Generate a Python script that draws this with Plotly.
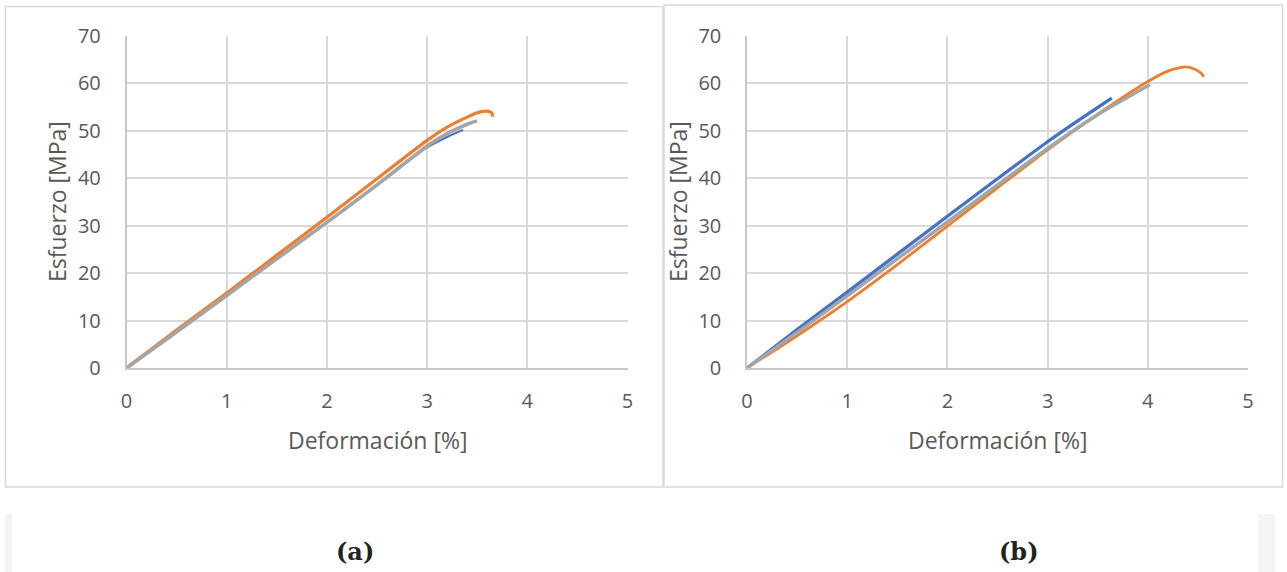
import plotly.graph_objects as go

W, H = 1287, 572

# ---- data (a) ----
a_blue_x = [0, 0.5, 1, 1.5, 2, 2.5, 3, 3.2, 3.36]
a_blue_y = [0, 7.7, 15.4, 23.1, 30.8, 38.5, 46.5, 48.7, 50.2]
a_orange_x = [0, 0.5, 1, 1.5, 2, 2.5, 3, 3.2, 3.4, 3.5, 3.56, 3.62, 3.65, 3.65]
a_orange_y = [0, 8.0, 15.8, 23.8, 31.8, 39.9, 48.0, 50.8, 52.9, 53.8, 54.1, 54.1, 53.6, 53.0]
a_gray_x = [0, 0.5, 1, 1.5, 2, 2.5, 3, 3.2, 3.4, 3.5]
a_gray_y = [0, 7.6, 15.3, 23.0, 30.7, 38.6, 46.8, 49.4, 51.4, 52.1]

# ---- data (b) ----
b_blue_x = [0, 0.5, 1, 1.5, 2, 2.5, 3, 3.3, 3.64]
b_blue_y = [0, 8.1, 16.0, 24.0, 32.0, 39.9, 47.7, 52.1, 56.9]
b_orange_x = [0, 0.5, 1, 1.5, 2, 2.5, 3, 3.5, 4, 4.2, 4.37, 4.47, 4.53, 4.56]
b_orange_y = [0, 6.8, 14.0, 21.8, 29.9, 38.0, 46.0, 53.5, 60.4, 62.6, 63.5, 63.0, 62.2, 61.4]
b_gray_x = [0, 0.5, 1, 1.5, 2, 2.5, 3, 3.5, 4.02]
b_gray_y = [0, 7.5, 15.2, 23.0, 30.8, 38.6, 46.3, 53.4, 59.7]

x_ticks = [0, 1, 2, 3, 4, 5]
y_ticks = [0, 10, 20, 30, 40, 50, 60, 70]
x_title = "Deformación [%]"
y_title = "Esfuerzo [MPa]"
captions = ["(a)", "(b)"]

BLUE, ORANGE, GRAY = "#4472C4", "#ED7D31", "#A5A5A5"
TXT = "#595959"
GRID = "#D9D9D9"
FONT = "Open Sans"

fig = go.Figure()

def add(x, y, color, width, xa, ya):
    fig.add_trace(go.Scatter(x=x, y=y, mode="lines", line=dict(color=color, width=width, shape="spline", smoothing=0.6),
                             xaxis=xa, yaxis=ya, showlegend=False, hoverinfo="skip"))

add(a_blue_x, a_blue_y, BLUE, 2, "x", "y")
add(a_orange_x, a_orange_y, ORANGE, 3.2, "x", "y")
add(a_gray_x, a_gray_y, GRAY, 3.6, "x", "y")
add(b_blue_x, b_blue_y, BLUE, 3.3, "x2", "y2")
add(b_orange_x, b_orange_y, ORANGE, 2.8, "x2", "y2")
add(b_gray_x, b_gray_y, GRAY, 3.4, "x2", "y2")

def px(v):
    return v / W

def py(v):
    return 1 - v / H

common_x = dict(range=[0, 5], tickvals=x_ticks, showgrid=True, gridcolor=GRID, gridwidth=1.5,
                zeroline=False, showline=True, linecolor="#C8C8C8", linewidth=1.5,
                ticks="", ticklabelstandoff=14, automargin=False,
                tickfont=dict(family=FONT, size=20, color=TXT), fixedrange=True)
common_y = dict(range=[0, 70], tickvals=y_ticks, showgrid=True, gridcolor=GRID, gridwidth=1.5,
                zeroline=False, showline=True, linecolor="#C8C8C8", linewidth=1.5,
                ticks="", ticklabelstandoff=20, automargin=False,
                tickfont=dict(family=FONT, size=20, color=TXT), fixedrange=True,
                domain=[py(368), py(36)])

fig.update_layout(
    template="none",
    width=W, height=H, margin=dict(l=0, r=0, t=0, b=0, pad=0, autoexpand=False),
    paper_bgcolor="white", plot_bgcolor="white", showlegend=False,
    xaxis=dict(domain=[px(126.5), px(627.5)], anchor="y", **common_x),
    yaxis=dict(anchor="x", **common_y),
    xaxis2=dict(domain=[px(747), px(1248)], anchor="y2", **common_x),
    yaxis2=dict(anchor="x2", **common_y),
)

shapes = [
    dict(type="rect", xref="paper", yref="paper", x0=px(5.5), x1=px(663), y0=py(487), y1=py(6.5),
         line=dict(color=GRID, width=1.5), fillcolor="rgba(0,0,0,0)", layer="below"),
    dict(type="rect", xref="paper", yref="paper", x0=px(664), x1=px(1282.5), y0=py(487), y1=py(5),
         line=dict(color=GRID, width=1.5), fillcolor="rgba(0,0,0,0)", layer="below"),
    dict(type="rect", xref="paper", yref="paper", x0=px(5), x1=px(12), y0=0, y1=py(514),
         line=dict(width=0), fillcolor="#F4F4F4", layer="below"),
    dict(type="rect", xref="paper", yref="paper", x0=px(1258), x1=px(1275), y0=0, y1=py(514),
         line=dict(width=0), fillcolor="#F4F4F4", layer="below"),
]
fig.update_layout(shapes=shapes)

ann = []
for cx, yx in [(377, 57), (997.5, 678)]:
    ann.append(dict(text=x_title, x=px(cx), y=py(440), xref="paper", yref="paper", showarrow=False,
                    xanchor="center", yanchor="middle", font=dict(family=FONT, size=23, color=TXT)))
    ann.append(dict(text=y_title, x=px(yx), y=py(202), xref="paper", yref="paper", showarrow=False,
                    textangle=-90, xanchor="center", yanchor="middle", font=dict(family=FONT, size=23, color=TXT)))
for cap, cx in zip(captions, [355, 1019]):
    ann.append(dict(text="<b>%s</b>" % cap, x=px(cx), y=py(551), xref="paper", yref="paper", showarrow=False,
                    xanchor="center", yanchor="middle", font=dict(family="DejaVu Serif", size=24, color="#222222")))
fig.update_layout(annotations=ann)

fig.write_html("out.html")
